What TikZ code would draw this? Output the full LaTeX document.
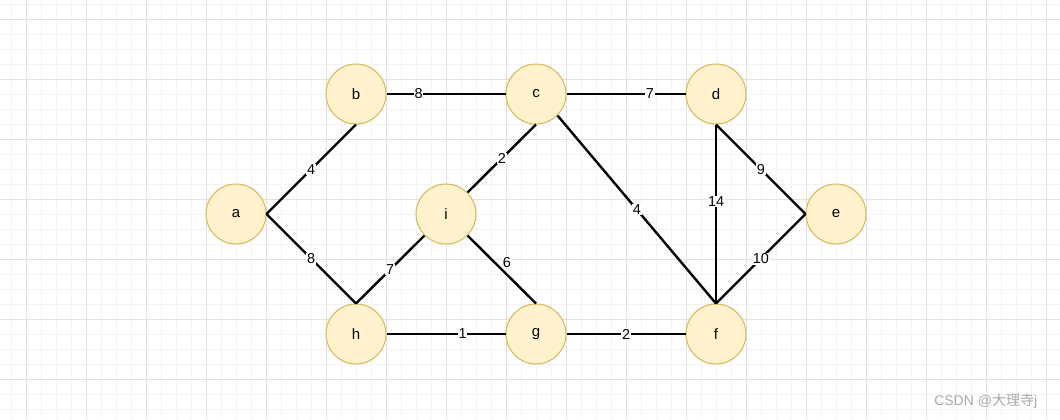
\documentclass[tikz,border=0pt]{standalone}
\usepackage{fontspec}
\setmainfont{Liberation Sans}
\newfontfamily\cjk{Noto Sans CJK SC}
\definecolor{vfill}{HTML}{FFF2CC}
\definecolor{vstroke}{HTML}{D6B656}
\definecolor{gridminor}{HTML}{F3F3F3}
\definecolor{gridmajor}{HTML}{E2E2E2}
\definecolor{wmark}{HTML}{A8A8A8}
\begin{document}
\begin{tikzpicture}[x=0.75pt,y=-0.75pt,
  vtx/.style={circle, draw=vstroke, fill=vfill, minimum size=45pt, inner sep=0pt, line width=0.75pt, font=\fontsize{11.25}{13}\selectfont},
  edge/.style={line width=1.8pt, black},
  wlab/.style={fill=white, inner sep=0.6pt, font=\fontsize{10.8}{12}\selectfont}]
\useasboundingbox (0,0) rectangle (1060,419);
\fill[white] (0,0) rectangle (1060,419);
% grid
\foreach \gx in {11,26,...,1060} \draw[gridminor, line width=0.75pt] (\gx,0) -- (\gx,419);
\foreach \gy in {4,19,...,419} \draw[gridminor, line width=0.75pt] (0,\gy) -- (1060,\gy);
\foreach \gx in {26,86,...,1060} \draw[gridmajor, line width=0.75pt] (\gx,0) -- (\gx,419);
\foreach \gy in {19,79,...,419} \draw[gridmajor, line width=0.75pt] (0,\gy) -- (1060,\gy);
% vertices
\node[vtx] (a) at (236,214) {a};
\node[vtx] (b) at (356,94) {b};
\node[vtx] (c) at (536,94) {c};
\node[vtx] (d) at (716,94) {d};
\node[vtx] (e) at (836,214) {e};
\node[vtx] (i) at (446,214) {i};
\node[vtx] (h) at (356,334) {h};
\node[vtx] (g) at (536,334) {g};
\node[vtx] (f) at (716,334) {f};
% edges
\draw[edge] (a.east) -- node[wlab, midway] {4} (b.south);
\draw[edge] (a.east) -- node[wlab, midway] {8} (h.north);
\draw[edge] (b.east) -- node[wlab, pos=0.27] {8} (c.west);
\draw[edge] (c.east) -- node[wlab, pos=0.7] {7} (d.west);
\draw[edge] (c.south) -- node[wlab, midway] {2} (i.45);
\draw[edge] (c.-45) -- node[wlab, midway] {4} (f.north);
\draw[edge] (d.south) -- node[wlab, pos=0.43] {14} (f.north);
\draw[edge] (d.south) -- node[wlab, midway] {9} (e.west);
\draw[edge] (e.west) -- node[wlab, midway] {10} (f.north);
\draw[edge] (i.-135) -- node[wlab, midway] {7} (h.north);
\draw[edge] (i.-45) -- node[wlab, pos=0.39, xshift=9.5pt] {6} (g.north);
\draw[edge] (h.east) -- node[wlab, pos=0.64] {1} (g.west);
\draw[edge] (g.east) -- node[wlab, midway] {2} (f.west);
% watermark
\node[anchor=west, text=wmark, inner sep=0pt, font=\fontsize{10.5}{12}\selectfont] (wm) at (934,401) {CSDN @{\cjk 大理寺}j};
\end{tikzpicture}
\end{document}
